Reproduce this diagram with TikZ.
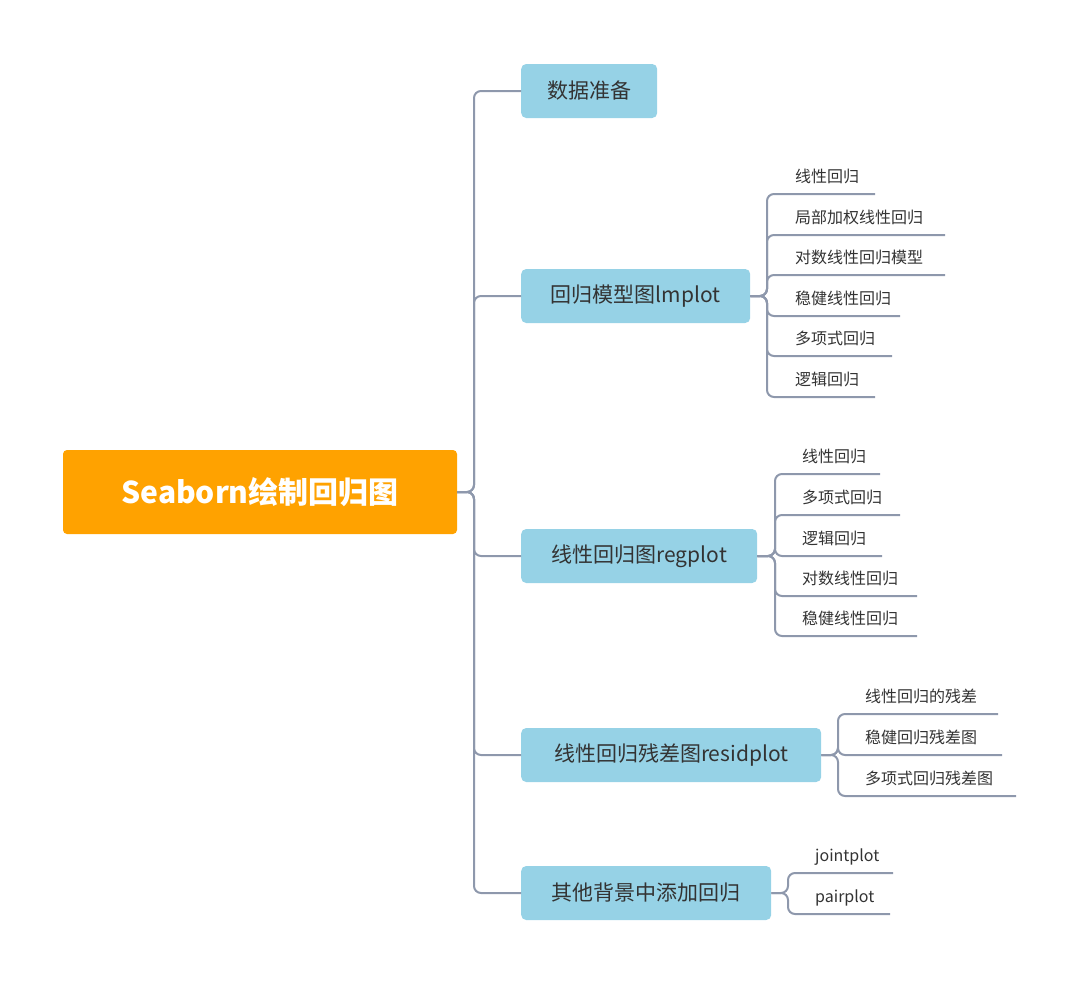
\documentclass[tikz,border=0pt]{standalone}
\usepackage{fontspec}
\setmainfont{Noto Sans CJK SC}
\begin{document}
\begin{tikzpicture}[x=1pt,y=-1pt,
  conn/.style={draw=lineC,line width=2pt,rounded corners=7pt},
  rootbox/.style={fill=orangeC,rounded corners=4pt,text=white,font=\bfseries\fontsize{30}{34}\selectfont,minimum width=394pt,minimum height=84pt,inner sep=0pt},
  topic/.style={fill=blueC,rounded corners=5pt,text=textC,font=\fontsize{21}{25}\selectfont,minimum height=54pt,inner sep=0pt,anchor=west},
  leaf/.style={text=textC,font=\fontsize{16}{19}\selectfont,anchor=base west,inner sep=0pt}]
\definecolor{orangeC}{HTML}{FFA200}
\definecolor{blueC}{HTML}{96D2E6}
\definecolor{lineC}{HTML}{8E98AC}
\definecolor{textC}{HTML}{333333}
\useasboundingbox (0,0) rectangle (1080,985);
\node[rootbox] (root) at (260,492) {Seaborn绘制回归图};
\node[topic,minimum width=136pt] (b1) at (521,91) {数据准备};
\node[topic,minimum width=229pt] (b2) at (521,296) {回归模型图lmplot};
\node[topic,minimum width=236pt] (b3) at (521,556) {线性回归图regplot};
\node[topic,minimum width=300pt] (b4) at (521,755) {线性回归残差图residplot};
\node[topic,minimum width=250pt] (b5) at (521,893) {其他背景中添加回归};
\foreach \b in {b1,b2,b3,b4,b5}{\draw[conn] (root.east) -- (474,492) |- (\b.west);}
% lmplot leaves
\foreach \n/\y/\e/\t in {a1/194/875/线性回归,a2/235/945/局部加权线性回归,a3/275/945/对数线性回归模型,a4/316/900/稳健线性回归,a5/356/892/多项式回归,a6/397/875/逻辑回归}{
  \node[leaf] (\n) at (795,\y-12) {\t};
  \coordinate (\n e) at (\e,\y);
  \draw[conn] (b2.east) -- (767,296) |- (\n e);}
% regplot leaves
\foreach \n/\y/\e/\t in {c1/474/880/线性回归,c2/515/900/多项式回归,c3/556/882/逻辑回归,c4/596/917/对数线性回归,c5/636/917/稳健线性回归}{
  \node[leaf] (\n) at (802,\y-12) {\t};
  \coordinate (\n e) at (\e,\y);
  \draw[conn] (b3.east) -- (775,556) |- (\n e);}
% residplot leaves
\foreach \n/\y/\e/\t in {d1/714/998/线性回归的残差,d2/755/1002/稳健回归残差图,d3/796/1016/多项式回归残差图}{
  \node[leaf] (\n) at (865,\y-12) {\t};
  \coordinate (\n e) at (\e,\y);
  \draw[conn] (b4.east) -- (838,755) |- (\n e);}
% others leaves
\foreach \n/\y/\e/\t in {f1/873/893/jointplot,f2/914/890/pairplot}{
  \node[leaf] (\n) at (815,\y-12) {\t};
  \coordinate (\n e) at (\e,\y);
  \draw[conn] (b5.east) -- (788,893) |- (\n e);}
\end{tikzpicture}
\end{document}
